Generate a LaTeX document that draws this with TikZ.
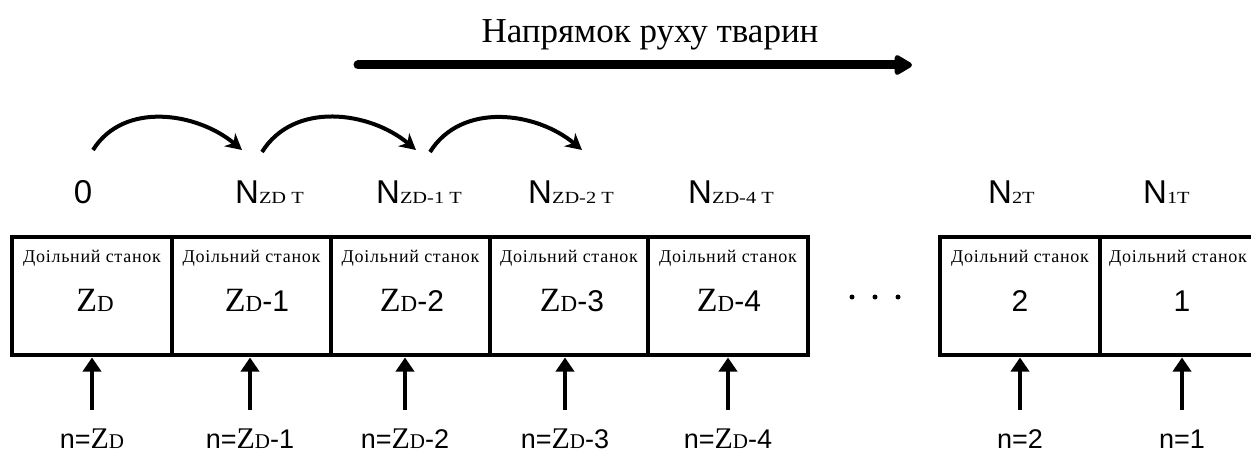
\documentclass[tikz,border=0pt]{standalone}
\usepackage{fontspec}
\setmainfont{Liberation Serif}
\newfontfamily\arialf{Liberation Sans}
\newfontfamily\tnrf{Liberation Serif}
\newfontfamily\tnrw[FakeStretch=1.2]{Liberation Serif}
\newfontfamily\spacedf[LetterSpace=4]{Liberation Serif}
\usetikzlibrary{arrows.meta}
\newcommand\fsz[1]{\fontsize{#1}{#1}\selectfont}
\newcommand\cellname{{\spacedf\fsz{18}Доільний станок}}
\newcommand\bigZD{{\tnrf\fsz{34}Z}{\tnrf\fsz{23}D}}
\newcommand\boxnum[1]{{\arialf\fsz{30}#1}}
\newcommand\botZD{{\arialf\fsz{27}n=}{\tnrf\fsz{30}Z}{\tnrf\fsz{21}D}}
\newcommand\botnum[1]{{\arialf\fsz{27}#1}}
\newcommand\topN[1]{{\arialf\fsz{33}N}{\tnrw\fsz{17}#1}}
\begin{document}
\begin{tikzpicture}[x=1pt,y=-1pt,
  cell/.style={draw, line width=4.5pt, minimum width=#1, minimum height=118pt, inner sep=0pt, outer sep=0pt},
  lab/.style={inner sep=0pt, anchor=base},
  toplab/.style={inner sep=0pt, anchor=base west},
  botlab/.style={inner sep=0pt, anchor=base, text height=21pt},
  uparrow/.style={line width=4pt, -{Triangle[length=14pt,width=18pt]}, shorten <=17pt, shorten >=2.5pt},
  hop/.style={line width=4pt, -{Stealth[length=16pt,width=17pt,inset=5pt]}},
  dir/.style={line width=9pt, line cap=round, -{Triangle[length=20pt,width=22pt,round]}},
  dot/.style={circle, fill, inner sep=0pt, minimum size=5pt}]
\useasboundingbox (0,0) rectangle (1251,452);
\clip (0,0) rectangle (1251,452);
% title and direction arrow
\node[lab] (title) at (650,43) {\tnrf\fsz{35}Напрямок руху тварин};
\coordinate (d0) at (358,65);
\coordinate (d1) at (912,65);
\draw[dir] (d0) -- (d1);
% cells
\node[cell=160pt] (b1) at (92,296) {};
\node[cell=159pt] (b2) at (251.5,296) {};
\node[cell=159pt] (b3) at (410.5,296) {};
\node[cell=158pt] (b4) at (569,296) {};
\node[cell=160pt] (b5) at (728,296) {};
\node[cell=160pt] (b6) at (1020,296) {};
\node[cell=162pt] (b7) at (1181,296) {};
% cell texts
\node[lab] (s1) at (92,262) {\cellname};
\node[lab] (s2) at (251.5,262) {\cellname};
\node[lab] (s3) at (410.5,262) {\cellname};
\node[lab] (s4) at (569,262) {\cellname};
\node[lab] (s5) at (728,262) {\cellname};
\node[lab] (s6) at (1020,262) {\cellname};
\node[lab] (s7) at (1178,262) {\cellname};
\node[lab] (z1) at (95,311) {\bigZD};
\node[lab] (z2) at (257,311) {\bigZD\boxnum{-1}};
\node[lab] (z3) at (412,311) {\bigZD\boxnum{-2}};
\node[lab] (z4) at (572,311) {\bigZD\boxnum{-3}};
\node[lab] (z5) at (729,311) {\bigZD\boxnum{-4}};
\node[lab] (z6) at (1020,311) {\boxnum{2}};
\node[lab] (z7) at (1182,311) {\boxnum{1}};
% dots
\node[dot] (p1) at (852,297) {};
\node[dot] (p2) at (875,297) {};
\node[dot] (p3) at (898,297) {};
% top labels
\node[lab] (t0) at (83,203) {{\arialf\fsz{33}0}};
\node[toplab] (t1) at (235,203) {\topN{ZD T}};
\node[toplab] (t2) at (376,203) {\topN{ZD-1 T}};
\node[toplab] (t3) at (528,203) {\topN{ZD-2 T}};
\node[toplab] (t4) at (688,203) {\topN{ZD-4 T}};
\node[toplab] (t5) at (988,203) {\topN{2T}};
\node[toplab] (t6) at (1143,203) {\topN{1T}};
% hop arcs
\coordinate (h0s) at (93,150);
\coordinate (h0e) at (242,150);
\coordinate (h1s) at (262,152);
\coordinate (h1e) at (416,150);
\coordinate (h2s) at (430,152);
\coordinate (h2e) at (582,150);
\draw[hop] (h0s) to[out=58,in=140] (h0e);
\draw[hop] (h1s) to[out=58,in=140] (h1e);
\draw[hop] (h2s) to[out=58,in=140] (h2e);
% bottom labels and arrows
\node[botlab] (l1) at (92,448) {\botZD};
\node[botlab] (l2) at (250,448) {\botZD\botnum{-1}};
\node[botlab] (l3) at (405,448) {\botZD\botnum{-2}};
\node[botlab] (l4) at (565,448) {\botZD\botnum{-3}};
\node[botlab] (l5) at (728,448) {\botZD\botnum{-4}};
\node[botlab] (l6) at (1020,448) {\botnum{n=2}};
\node[botlab] (l7) at (1182,448) {\botnum{n=1}};
\draw[uparrow] (l1.north) -- (b1.south -| l1.north);
\draw[uparrow] (l2.north) -- (b2.south -| l2.north);
\draw[uparrow] (l3.north) -- (b3.south -| l3.north);
\draw[uparrow] (l4.north) -- (b4.south -| l4.north);
\draw[uparrow] (l5.north) -- (b5.south -| l5.north);
\draw[uparrow] (l6.north) -- (b6.south -| l6.north);
\draw[uparrow] (l7.north) -- (b7.south -| l7.north);
\end{tikzpicture}
\end{document}
